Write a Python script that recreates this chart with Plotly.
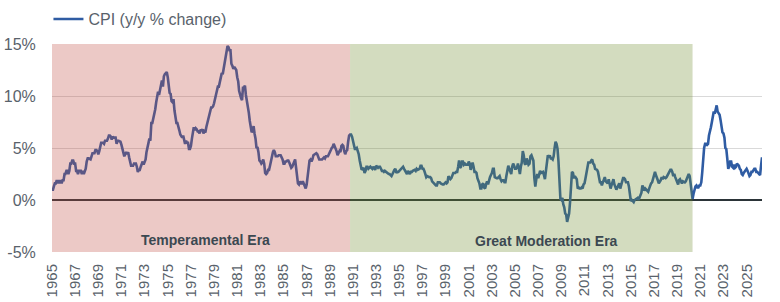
import pandas as pd
import plotly.graph_objects as go

# Monthly CPI year-over-year % change, Jan 1965 onward
cpi_1960s = [
    1.0, 1.0, 1.3, 1.6, 1.6, 1.9, 1.6, 1.9, 1.6, 1.9, 1.6, 1.9,
    1.9, 2.5, 2.5, 2.8, 2.8, 2.5, 2.8, 3.5, 3.5, 3.8, 3.8, 3.5,
    3.5, 2.8, 2.8, 2.5, 2.8, 2.8, 2.8, 2.5, 2.8, 2.5, 2.8, 3.0,
    3.7, 4.0, 4.0, 3.9, 3.9, 4.2, 4.5, 4.5, 4.5, 4.8, 4.8, 4.7,
    4.4, 4.7, 5.3, 5.5, 5.5, 5.5, 5.4, 5.7, 5.7, 5.7, 5.9, 6.2,
]
cpi_1970s = [
    6.2, 6.1, 5.8, 6.1, 6.0, 6.0, 6.0, 5.4, 5.7, 5.7, 5.6, 5.6,
    5.3, 5.0, 4.7, 4.2, 4.4, 4.6, 4.4, 4.6, 4.1, 3.8, 3.3, 3.3,
    3.3, 3.5, 3.5, 3.5, 3.2, 2.7, 2.9, 2.9, 3.2, 3.4, 3.7, 3.4,
    3.6, 3.9, 4.6, 5.1, 5.5, 5.9, 5.7, 7.4, 7.4, 7.8, 8.3, 8.7,
    9.4, 10.0, 10.4, 10.1, 10.7, 10.9, 11.5, 10.9, 11.9, 12.1, 12.2, 12.3,
    11.8, 11.2, 10.3, 10.2, 9.5, 9.4, 9.7, 8.6, 7.9, 7.4, 7.4, 6.9,
    6.7, 6.3, 6.1, 6.0, 6.2, 5.9, 5.4, 5.7, 5.5, 5.5, 4.9, 4.9,
    5.2, 5.9, 6.4, 7.0, 6.7, 6.9, 6.8, 6.6, 6.6, 6.4, 6.7, 6.7,
    6.8, 6.4, 6.6, 6.5, 7.0, 7.4, 7.7, 7.9, 8.3, 8.9, 8.9, 9.0,
    9.3, 9.9, 10.1, 10.5, 10.9, 10.9, 11.3, 11.8, 12.2, 12.1, 12.6, 13.3,
]
cpi_1980s = [
    13.9, 14.2, 14.8, 14.7, 14.4, 14.4, 13.1, 12.9, 12.6, 12.8, 12.6, 12.5,
    11.8, 11.4, 10.5, 10.0, 9.8, 9.6, 10.8, 10.8, 11.0, 10.1, 9.6, 8.9,
    8.4, 7.6, 6.8, 6.5, 6.7, 7.1, 6.4, 5.9, 5.0, 5.1, 4.6, 3.8,
    3.7, 3.5, 3.6, 3.9, 3.5, 2.6, 2.5, 2.6, 2.9, 2.9, 3.3, 3.8,
    4.2, 4.6, 4.8, 4.6, 4.2, 4.2, 4.2, 4.3, 4.3, 4.3, 4.1, 3.9,
    3.5, 3.5, 3.7, 3.7, 3.8, 3.8, 3.6, 3.3, 3.1, 3.2, 3.5, 3.8,
    3.9, 3.1, 2.2, 1.6, 1.5, 1.8, 1.6, 1.6, 1.8, 1.5, 1.3, 1.1,
    1.5, 2.1, 3.0, 3.8, 3.9, 3.7, 3.9, 4.3, 4.4, 4.5, 4.5, 4.4,
    4.0, 3.9, 3.9, 3.9, 3.9, 4.0, 4.1, 4.0, 4.2, 4.2, 4.2, 4.4,
    4.7, 4.8, 5.0, 5.1, 5.4, 5.2, 5.0, 4.7, 4.3, 4.5, 4.7, 4.6,
]
cpi_1990s = [
    5.2, 5.3, 5.2, 4.7, 4.4, 4.7, 4.8, 5.6, 6.2, 6.3, 6.3, 6.1,
    5.7, 5.3, 4.9, 4.9, 5.0, 4.7, 4.4, 3.8, 3.4, 2.9, 3.0, 3.1,
    2.6, 2.8, 3.2, 3.2, 3.0, 3.1, 3.2, 3.1, 3.0, 3.2, 3.0, 2.9,
    3.3, 3.2, 3.1, 3.2, 3.2, 3.0, 2.8, 2.8, 2.7, 2.8, 2.7, 2.7,
    2.5, 2.5, 2.5, 2.4, 2.3, 2.5, 2.8, 2.9, 3.0, 2.6, 2.7, 2.7,
    2.8, 2.9, 2.9, 3.1, 3.2, 3.0, 2.8, 2.6, 2.5, 2.8, 2.6, 2.5,
    2.7, 2.7, 2.8, 2.9, 2.9, 2.8, 3.0, 2.9, 3.0, 3.0, 3.3, 3.3,
    3.0, 3.0, 2.8, 2.5, 2.2, 2.3, 2.2, 2.2, 2.2, 2.1, 1.8, 1.7,
    1.6, 1.4, 1.4, 1.4, 1.7, 1.7, 1.7, 1.6, 1.5, 1.5, 1.5, 1.6,
    1.7, 1.6, 1.7, 2.3, 2.1, 2.0, 2.1, 2.3, 2.6, 2.6, 2.6, 2.7,
]
cpi_2000s = [
    2.7, 3.2, 3.8, 3.1, 3.2, 3.7, 3.7, 3.4, 3.5, 3.4, 3.4, 3.4,
    3.7, 3.5, 2.9, 3.3, 3.6, 3.2, 2.7, 2.7, 2.6, 2.1, 1.9, 1.6,
    1.1, 1.1, 1.5, 1.6, 1.2, 1.1, 1.5, 1.8, 1.5, 2.0, 2.2, 2.4,
    2.6, 3.0, 3.0, 2.2, 2.1, 2.1, 2.1, 2.2, 2.3, 2.0, 1.8, 1.9,
    1.9, 1.7, 1.7, 2.3, 3.1, 3.3, 3.0, 2.7, 2.5, 3.2, 3.5, 3.3,
    3.0, 3.0, 3.1, 3.5, 2.8, 2.5, 3.2, 3.6, 4.7, 4.3, 3.5, 3.4,
    4.0, 3.6, 3.4, 3.5, 4.2, 4.3, 4.1, 3.8, 2.1, 1.3, 2.0, 2.5,
    2.1, 2.4, 2.8, 2.6, 2.7, 2.7, 2.4, 2.0, 2.8, 3.5, 4.3, 4.1,
    4.3, 4.0, 4.0, 3.9, 4.2, 5.0, 5.6, 5.4, 4.9, 3.7, 1.1, 0.1,
    0.0, 0.2, -0.4, -0.7, -1.3, -1.4, -2.1, -1.5, -1.3, -0.2, 1.8, 2.7,
]
cpi_2010s = [
    2.6, 2.1, 2.3, 2.2, 2.0, 1.1, 1.2, 1.1, 1.1, 1.2, 1.1, 1.5,
    1.6, 2.1, 2.7, 3.2, 3.6, 3.6, 3.6, 3.8, 3.9, 3.5, 3.4, 3.0,
    2.9, 2.9, 2.7, 2.3, 1.7, 1.7, 1.4, 1.7, 2.0, 2.2, 1.8, 1.7,
    1.6, 2.0, 1.5, 1.1, 1.4, 1.8, 2.0, 1.5, 1.2, 1.0, 1.2, 1.5,
    1.6, 1.1, 1.5, 2.0, 2.1, 2.1, 2.0, 1.7, 1.7, 1.7, 1.3, 0.8,
    -0.1, 0.0, -0.1, -0.2, 0.0, 0.1, 0.2, 0.2, 0.0, 0.2, 0.5, 0.7,
    1.4, 1.0, 0.9, 1.1, 1.0, 1.0, 0.8, 1.1, 1.5, 1.6, 1.7, 2.1,
    2.5, 2.7, 2.4, 2.2, 1.9, 1.6, 1.7, 1.9, 2.2, 2.0, 2.2, 2.1,
    2.1, 2.2, 2.4, 2.5, 2.8, 2.9, 2.9, 2.7, 2.3, 2.5, 2.2, 1.9,
    1.6, 1.5, 1.9, 2.0, 1.8, 1.6, 1.8, 1.7, 1.7, 1.8, 2.1, 2.3,
]
cpi_2020s = [
    2.5, 2.3, 1.5, 0.3, 0.1, 0.6, 1.0, 1.3, 1.4, 1.2, 1.2, 1.4,
    1.4, 1.7, 2.6, 4.2, 5.0, 5.4, 5.4, 5.3, 5.4, 6.2, 6.8, 7.0,
    7.5, 7.9, 8.5, 8.3, 8.6, 9.1, 8.5, 8.3, 8.2, 7.7, 7.1, 6.5,
    6.4, 6.0, 5.0, 4.9, 4.0, 3.0, 3.2, 3.7, 3.7, 3.2, 3.1, 3.4,
    3.1, 3.2, 3.5, 3.4, 3.3, 3.0, 2.9, 2.5, 2.4, 2.6, 2.7, 2.9,
    3.0, 2.8, 2.4, 2.3, 2.4, 2.7, 2.7, 2.9, 3.0, 3.0, 2.7, 2.7,
    2.6, 2.4, 2.4, 3.3, 4.1,
]

start_month = "1965-01-01"
era_names = ["Temperamental Era", "Great Moderation Era"]
era_starts = ["1965-01-01", "1990-10-01"]
era_ends = ["1990-10-01", "2020-05-01"]
era_label_x = ["1978-04-01", "2007-10-01"]
era_label_y = [-3.85, -3.9]
era_fills = ["rgba(192,75,65,0.30)", "rgba(108,138,42,0.30)"]
y_ticks = [-5, 0, 5, 10, 15]
y_tick_labels = ["-5%", "0%", "5%", "10%", "15%"]

values = cpi_1960s + cpi_1970s + cpi_1980s + cpi_1990s + cpi_2000s + cpi_2010s + cpi_2020s
dates = pd.date_range(start_month, periods=len(values), freq="MS")

FONT = "Liberation Sans, Arial, sans-serif"
GRAY = "#59626b"

fig = go.Figure()
fig.add_trace(go.Scatter(
    x=dates, y=values, mode="lines", name="CPI (y/y % change)",
    line=dict(color="#2f5ca3", width=2.6),
))

for s, e, fc in zip(era_starts, era_ends, era_fills):
    fig.add_shape(type="rect", xref="x", yref="y", x0=s, x1=e, y0=-5, y1=15,
                  fillcolor=fc, line=dict(width=0), layer="above")

for name, lx, ly in zip(era_names, era_label_x, era_label_y):
    fig.add_annotation(x=lx, y=ly, xref="x", yref="y", text=f"<b>{name}</b>",
                       showarrow=False, font=dict(family=FONT, size=14, color="#3b4851"))

fig.update_layout(
    width=780, height=302,
    margin=dict(l=52, r=18, t=44, b=50, autoexpand=False),
    paper_bgcolor="white", plot_bgcolor="white",
    showlegend=True,
    legend=dict(x=-0.005, y=1.12, xanchor="left", yanchor="middle",
                orientation="h", itemwidth=30,
                font=dict(family=FONT, size=16, color=GRAY),
                bgcolor="rgba(0,0,0,0)"),
    font=dict(family=FONT, color=GRAY),
)
fig.update_xaxes(
    type="date", range=[dates[0], dates[-1]], automargin=False,
    tick0="1965-01-01", dtick="M24", tickformat="%Y", tickangle=-90,
    showgrid=False, showline=False, ticks="outside", ticklen=5,
    tickcolor="rgba(0,0,0,0)",
    tickfont=dict(family=FONT, size=15, color=GRAY),
)
fig.update_yaxes(
    range=[-5, 15], tickvals=y_ticks, ticktext=y_tick_labels, automargin=False,
    showgrid=True, gridcolor="#d9d9d9", gridwidth=1,
    zeroline=True, zerolinecolor="#2b3438", zerolinewidth=1.5,
    showline=False, ticks="outside", ticklen=12, tickcolor="rgba(0,0,0,0)",
    tickfont=dict(family=FONT, size=16, color=GRAY),
)

fig.write_html("out.html")
